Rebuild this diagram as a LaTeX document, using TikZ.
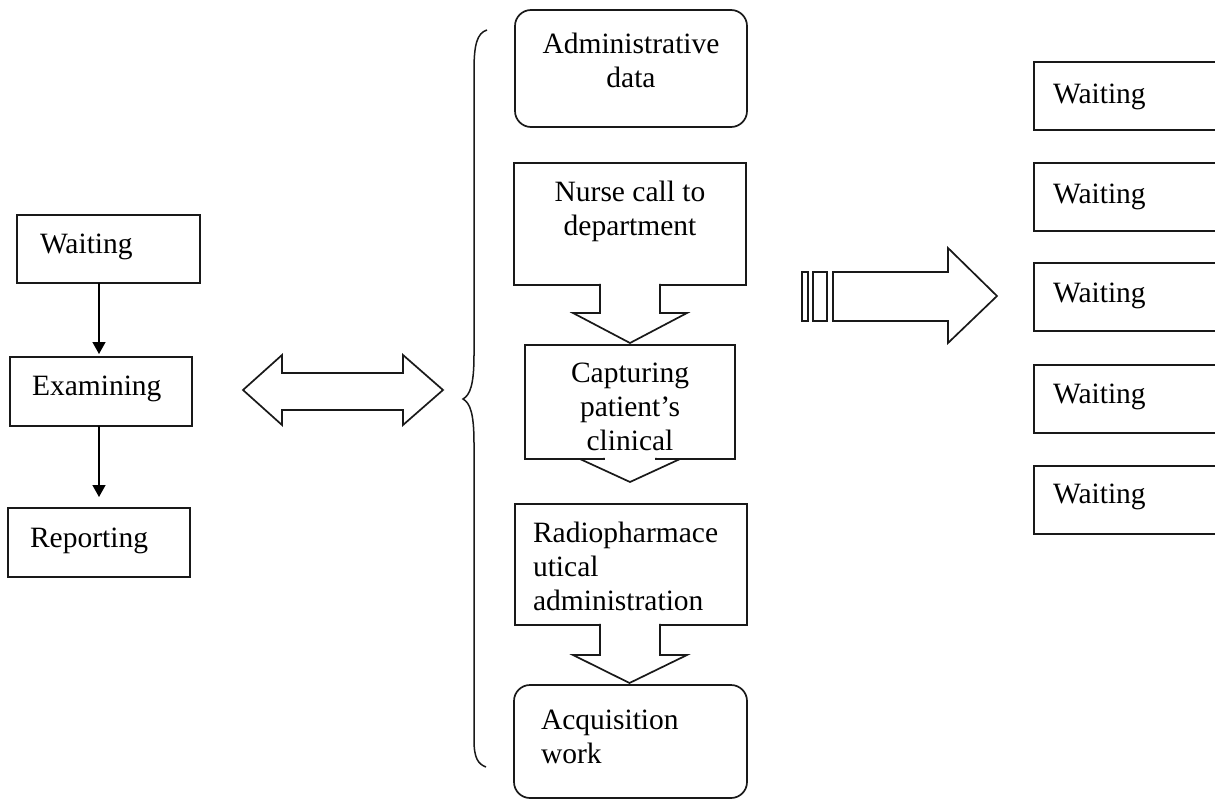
\documentclass[tikz,border=0pt]{standalone}
\usepackage{fontspec}
\setmainfont{Liberation Serif}
\usetikzlibrary{arrows.meta,calc}

\begin{document}
\begin{tikzpicture}[x=1pt,y=-1pt,
  every node/.style={font=\fontsize{29.5}{34}\selectfont},
  line/.style={draw=black!90,line width=1.7pt},
  box/.style={line,rectangle,inner sep=0pt,outer sep=0pt},
  rbox/.style={box,rounded corners=16pt},
  txt/.style={inner sep=0pt,outer sep=0pt,text=black},
  ctxt/.style={txt,align=center,anchor=base},
  ltxt/.style={txt,align=left,anchor=base west},
  blockarrow/.style={line,fill=white,line join=miter},
  flow/.style={draw=black,line width=1.4pt,-{Triangle[length=12pt,width=13pt]}}
]
\useasboundingbox (0,0) rectangle (1215,800);

% left column: workflow
\node[box,minimum width=183pt,minimum height=68pt] (wait) at (108.5,249) {};
\node[box,minimum width=182pt,minimum height=69pt] (exam) at (101,391.5) {};
\node[box,minimum width=182pt,minimum height=69pt] (rep)  at (99,542.5) {};
\node[ltxt] (waitT) at (40,253) {Waiting};
\node[ltxt] (examT) at (32,395) {Examining};
\node[ltxt] (repT)  at (30,547) {Reporting};
\draw[flow,shorten >=3pt] (wait.south -| rep.north) -- (exam.north -| rep.north);
\draw[flow,shorten >=11pt] (exam.south -| rep.north) -- (rep.north);

% two-headed block arrow
\draw[blockarrow] (243,390) -- (282,355) -- (282,373) -- (403,373) -- (403,355)
  -- (443,390) -- (403,425) -- (403,410) -- (282,410) -- (282,425) -- cycle;

% curly brace
\draw[line,line width=1.5pt] (487,30) .. controls (477,33) and (474,45) .. (474,70)
  -- (474,355) .. controls (474,385) and (470,395) .. (463,399)
  .. controls (470,403) and (474,413) .. (474,443)
  -- (474,740) .. controls (474,758) and (478,764) .. (486,767);

% middle column: steps
\node[rbox,minimum width=232pt,minimum height=117pt] (admin) at (631,68.5) {};
\node[box,minimum width=232pt,minimum height=122pt] (nurse) at (630,224) {};
\node[box,minimum width=210pt,minimum height=114pt] (capt)  at (630,402) {};
\node[box,minimum width=232pt,minimum height=121pt] (radio) at (631,564.5) {};
\node[rbox,minimum width=233pt,minimum height=113pt] (acq)  at (630.5,741.5) {};

% block arrows between the steps
\draw[blockarrow] ($(nurse.south)+(-30,-1.2)$) -- ($(nurse.south)+(-30,28)$)
  -- ($(nurse.south)+(-57,28)$) -- ($(capt.north)+(0,-2)$)
  -- ($(nurse.south)+(57,28)$) -- ($(nurse.south)+(30,28)$) -- ($(nurse.south)+(30,-1.2)$);
\draw[blockarrow] ($(capt.south)+(-26,-1.2)$) -- ($(capt.south)+(-26,0)$)
  -- ($(capt.south)+(-50,0)$) -- ($(capt.south)+(0,23)$)
  -- ($(capt.south)+(50,0)$) -- ($(capt.south)+(26,0)$) -- ($(capt.south)+(26,-1.2)$);
\draw[blockarrow] ($(radio.south)+(-31,-1.2)$) -- ($(radio.south)+(-31,30)$)
  -- ($(radio.south)+(-58,30)$) -- ($(acq.north)+(-1,-2)$)
  -- ($(radio.south)+(56,30)$) -- ($(radio.south)+(29,30)$) -- ($(radio.south)+(29,-1.2)$);

% texts of the steps (anchored at the baseline of their last line)
\node[ctxt] (adminT) at (631,87)  {Administrative\\data};
\node[ctxt] (nurseT) at (630,235) {Nurse call to\\department};
\node[ctxt] (captT)  at (630,450) {Capturing\\patient’s\\clinical};
\node[ltxt] (radioT) at (533,610) {Radiopharmace\\utical\\administration};
\node[ltxt] (acqT)   at (541,763) {Acquisition\\work};

% striped block arrow
\draw[line] (802,272) rectangle (808,321);
\draw[line] (813,272) rectangle (827,321);
\draw[blockarrow] (833,272) -- (948,272) -- (948,248) -- (997,296)
  -- (948,343) -- (948,321) -- (833,321) -- cycle;

% right column: waiting slots
\foreach \i/\cy/\by in {1/96/103, 2/197/203, 3/297/302, 4/399/403, 5/500/503} {
  \node[box,minimum width=191pt,minimum height=68pt] (slot\i) at (1129.5,\cy) {};
  \node[ltxt] (slotT\i) at (1053,\by) {Waiting};
}
\end{tikzpicture}
\end{document}
